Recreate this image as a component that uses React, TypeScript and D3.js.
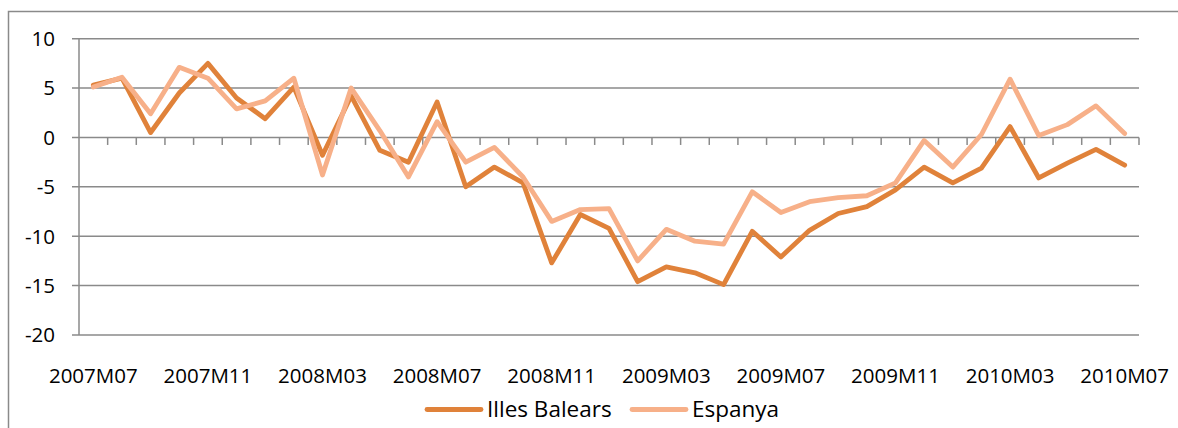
import React from 'react';
import * as d3 from 'd3';

// monthly categories, 2007M07 .. 2010M07
const categories: string[] = [
  '2007M07', '2007M08', '2007M09', '2007M10', '2007M11', '2007M12',
  '2008M01', '2008M02', '2008M03', '2008M04', '2008M05', '2008M06',
  '2008M07', '2008M08', '2008M09', '2008M10', '2008M11', '2008M12',
  '2009M01', '2009M02', '2009M03', '2009M04', '2009M05', '2009M06',
  '2009M07', '2009M08', '2009M09', '2009M10', '2009M11', '2009M12',
  '2010M01', '2010M02', '2010M03', '2010M04', '2010M05', '2010M06',
  '2010M07'
];

const illesBalears: number[] = [
  5.3, 6.0, 0.5, 4.5, 7.5, 4.0, 1.9, 5.1, -1.8, 4.2,
  -1.3, -2.5, 3.6, -5.0, -3.0, -4.6, -12.7, -7.8, -9.2, -14.6,
  -13.1, -13.7, -14.9, -9.5, -12.1, -9.4, -7.7, -7.0, -5.3, -3.0,
  -4.6, -3.1, 1.1, -4.1, -2.6, -1.2, -2.8
];

const espanya: number[] = [
  5.1, 6.1, 2.4, 7.1, 6.0, 2.9, 3.7, 6.0, -3.8, 5.0,
  0.7, -4.0, 1.6, -2.5, -1.0, -4.0, -8.5, -7.3, -7.2, -12.5,
  -9.3, -10.5, -10.8, -5.5, -7.6, -6.5, -6.1, -5.9, -4.6, -0.3,
  -3.0, 0.3, 5.9, 0.2, 1.3, 3.2, 0.4
];

const yTicks: number[] = [10, 5, 0, -5, -10, -15, -20];
const seriesNames: string[] = ['Illes Balears', 'Espanya'];
const colors: string[] = ['#E0823A', '#F7B089'];

class Chart extends React.Component {
  ref = React.createRef<SVGSVGElement>();

  componentDidMount() {
    this.draw();
  }

  draw() {
    const svg = d3.select(this.ref.current);
    svg.selectAll('*').remove();

    const width = 1178;
    const height = 428;
    const font = "'Open Sans', sans-serif";
    const grid = '#8a8a8a';

    // plot area
    const left = 79, right = 1139, top = 38.7, bottom = 335;

    const x = d3.scaleBand().domain(categories).range([left, right]);
    const y = d3.scaleLinear().domain([-20, 10]).range([bottom, top]);

    // outer chart border (cut by the picture)
    svg.append('path')
      .attr('d', `M8.5,${height} L8.5,11.5 L${width},11.5`)
      .attr('fill', 'none')
      .attr('stroke', grid)
      .attr('stroke-width', 1.5);

    // gridlines
    svg.append('g')
      .selectAll('line')
      .data(yTicks)
      .enter().append('line')
      .attr('x1', left - 7)
      .attr('x2', right)
      .attr('y1', (d) => y(d))
      .attr('y2', (d) => y(d))
      .attr('stroke', grid)
      .attr('stroke-width', 1.5);

    // y axis line
    svg.append('line')
      .attr('x1', left).attr('x2', left)
      .attr('y1', top).attr('y2', bottom)
      .attr('stroke', grid)
      .attr('stroke-width', 1.5);

    // y labels
    svg.append('g')
      .selectAll('text')
      .data(yTicks)
      .enter().append('text')
      .attr('x', 55)
      .attr('y', (d) => y(d))
      .attr('dy', '0.36em')
      .attr('text-anchor', 'end')
      .style('font-family', font)
      .style('font-size', '20.5px')
      .attr('fill', '#000')
      .text((d) => d);

    // category tick marks hanging from the zero line
    const bounds = categories.map((c) => (x(c) as number) + x.bandwidth());
    svg.append('g')
      .selectAll('line')
      .data(bounds)
      .enter().append('line')
      .attr('x1', (d) => d)
      .attr('x2', (d) => d)
      .attr('y1', y(0))
      .attr('y2', y(0) + 7.5)
      .attr('stroke', grid)
      .attr('stroke-width', 1.5);

    // x labels, every 4 months
    svg.append('g')
      .selectAll('text')
      .data(categories.filter((c, i) => i % 4 === 0))
      .enter().append('text')
      .attr('x', (d) => (x(d) as number) + x.bandwidth() / 2)
      .attr('y', 382.5)
      .attr('text-anchor', 'middle')
      .style('font-family', font)
      .style('font-size', '20.5px')
      .attr('fill', '#000')
      .text((d) => d);

    // lines, Espanya drawn last so it sits on top
    const line = d3.line<number>()
      .x((d, i) => (x(categories[i]) as number) + x.bandwidth() / 2)
      .y((d) => y(d));

    [illesBalears, espanya].forEach((s, k) => {
      svg.append('path')
        .datum(s)
        .attr('d', line)
        .attr('fill', 'none')
        .attr('stroke', colors[k])
        .attr('stroke-width', 4.8)
        .attr('stroke-linejoin', 'round')
        .attr('stroke-linecap', 'round');
    });

    // legend
    const legendX = [427, 632];
    const legend = svg.selectAll('.legend')
      .data(seriesNames)
      .enter().append('g')
      .attr('class', 'legend')
      .attr('transform', (d, i) => 'translate(' + legendX[i] + ',409.5)');

    legend.append('line')
      .attr('x1', 0).attr('x2', 54)
      .attr('y1', 0).attr('y2', 0)
      .attr('stroke', (d, i) => colors[i])
      .attr('stroke-width', 4.8)
      .attr('stroke-linecap', 'round');

    legend.append('text')
      .attr('x', 60)
      .attr('y', 7.8)
      .style('font-family', font)
      .style('font-size', '22.5px')
      .attr('fill', '#000')
      .text((d) => d);
  }

  render() {
    return (
      <svg ref={this.ref} width={1178} height={428}
        style={{ position: 'absolute', left: 0, top: 0, background: '#fff' }} />
    );
  }
}

export default function App() {
  return <Chart />;
}
